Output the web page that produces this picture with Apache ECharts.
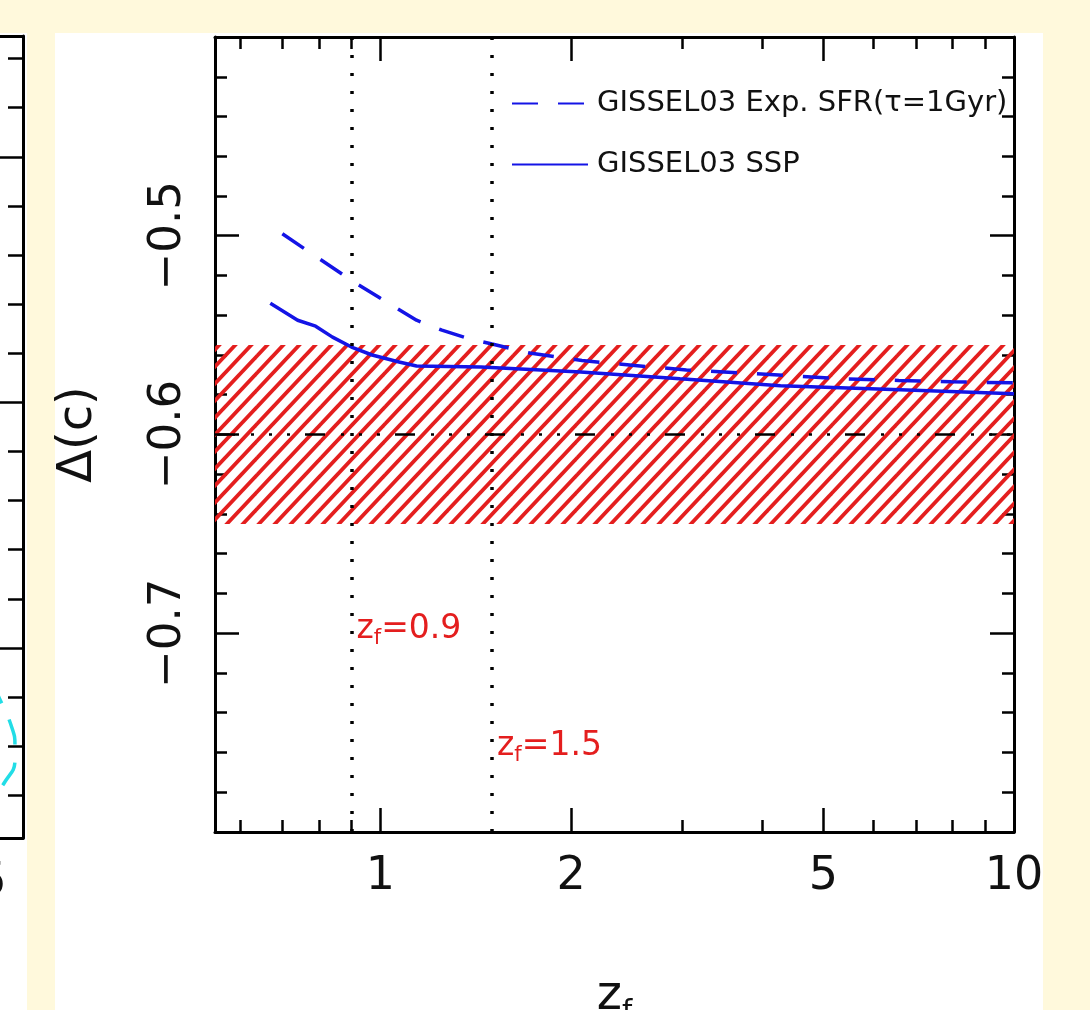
<!DOCTYPE html>
<html>
<head>
<meta charset="utf-8">
<script src="https://cdn.jsdelivr.net/npm/echarts@6/dist/echarts.min.js"></script>
<style>
html,body{margin:0;padding:0;background:#fff9dc;}
#chart{width:1090px;height:1010px;}
</style>
</head>
<body>
<div id="chart"></div>
<script>
// ---------- data ----------
const seriesNames = ['GISSEL03 Exp. SFR(\u03c4=1Gyr)', 'GISSEL03 SSP'];
const zExp  = [0.70, 0.80, 0.90, 1.00, 1.14, 1.25, 1.37, 1.50, 1.72, 2.08, 2.52, 3.04, 3.69, 4.47, 5.41, 6.58, 7.96, 10];
const dcExp = [-0.499, -0.5115, -0.5225, -0.5315, -0.5425, -0.5475, -0.5515, -0.5545, -0.559, -0.5628, -0.5653, -0.5675, -0.569, -0.5705, -0.572, -0.5728, -0.5735, -0.574];
const zSSP  = [0.67, 0.74, 0.79, 0.84, 0.90, 0.97, 1.07, 1.14, 1.44, 2.07, 2.97, 4.28, 6.61, 10];
const dcSSP = [-0.534, -0.5425, -0.5455, -0.551, -0.556, -0.56, -0.5635, -0.5655, -0.566, -0.5685, -0.572, -0.5755, -0.5775, -0.5795];
const refLevel = -0.6;
const bandLow = -0.645, bandHigh = -0.555;
const zfLines = [0.9, 1.5];
const zfLabels = ['0.9', '1.5'];
const zfLabelY = [-0.698, -0.757];
const xMajorTicks = [1, 2, 5, 10];
const xMinorTicks = [0.6, 0.7, 0.8, 0.9, 3, 4, 6, 7, 8, 9];
const xRange = [0.548, 10];
const yRange = [-0.8, -0.4];
const yLabelValues = [-0.7, -0.6, -0.5];
const yLabelTexts = ['\u22120.7', '\u22120.6', '\u22120.5'];
// neighbouring (cut-off) panel
const leftMajorTicks = [0, 0.5, 1.0];
const leftMinorTicks = [-0.3, -0.2, -0.1, 0.1, 0.2, 0.3, 0.4, 0.6, 0.7, 0.8, 0.9, 1.1, 1.2];
const leftXLabelValues = [9.27];
const leftXLabelTexts = ['5'];
const cyanX = [9.22, 9.46, 9.74, 9.81, 9.81, 9.57, 9.22];
const cyanY = [-0.065, -0.106, -0.163, -0.198, -0.228, -0.273, -0.31];

// ---------- styles ----------
const FONT = "'DejaVu Sans', Verdana, sans-serif";
const BLUE = '#1414e6';
const RED = '#e41e1e';
const lg = Math.log10;

// hatch pattern (large tile, few seams)
const TW = 64, TH = 68;
const tile = document.createElement('canvas');
tile.width = TW; tile.height = TH;
(function () {
  const c = tile.getContext('2d');
  c.strokeStyle = RED; c.lineWidth = 3.8; c.lineCap = 'butt';
  for (let o = -TW; o <= TW; o += 16) {
    c.beginPath(); c.moveTo(o - 16, TH + 17); c.lineTo(o + TW + 16, -17); c.stroke();
  }
})();

const chart = echarts.init(document.getElementById('chart'), null, { renderer: 'canvas' });

const blackLine = { color: '#000', width: 3 };
const tickLine = { color: '#000', width: 2.5 };

const logMajor = xMajorTicks.map(lg);
const logMinor = xMinorTicks.map(lg);
const xValMin = lg(xRange[0]), xValMax = lg(xRange[1]);

function tickAxis(position, values, len, withLabel, lineOn) {
  return {
    type: 'value', gridIndex: 0, position: position, min: xValMin, max: xValMax,
    axisLine: { show: !!lineOn, onZero: false, lineStyle: blackLine },
    axisTick: { show: true, inside: true, length: len, customValues: values, lineStyle: tickLine },
    axisLabel: withLabel ? {
      show: true, customValues: values, margin: 22, fontSize: 46, color: '#111', fontFamily: FONT,
      formatter: v => String(Math.round(Math.pow(10, v)))
    } : { show: false },
    splitLine: { show: false }
  };
}

const option = {
  backgroundColor: '#fff9dc',
  animation: false,
  graphic: [
    { type: 'rect', z: -10, shape: { x: 55, y: 33, width: 988, height: 980 }, style: { fill: '#ffffff' } },
    { type: 'rect', z: -10, shape: { x: 0, y: 33, width: 27, height: 980 }, style: { fill: '#ffffff' } }
  ],
  legend: {
    show: true, orient: 'vertical', left: 506, top: 84, itemWidth: 76, itemHeight: 14, itemGap: 32,
    selectedMode: false, data: seriesNames,
    itemStyle: { opacity: 0 },
    textStyle: { fontSize: 29, color: '#111', fontFamily: FONT, padding: [0, 0, 0, 4] }
  },
  grid: [
    { left: 215, top: 37, right: 76, bottom: 178, outerBoundsMode: 'none', containLabel: false },
    { left: -400, right: 1067, top: 36, bottom: 172, outerBoundsMode: 'none', containLabel: false }
  ],
  xAxis: [
    {
      type: 'log', gridIndex: 0, position: 'bottom', min: xRange[0], max: xRange[1],
      axisLine: { show: true, onZero: false, lineStyle: blackLine },
      axisTick: { show: false }, axisLabel: { show: false }, splitLine: { show: false },
      name: '{z|z}{f|f}', nameLocation: 'middle', nameGap: 135,
      nameTextStyle: {
        rich: {
          z: { fontSize: 48, lineHeight: 60, verticalAlign: 'middle', fontFamily: FONT, color: '#111' },
          f: { fontSize: 29, lineHeight: 60, verticalAlign: 'bottom', fontFamily: FONT, color: '#111' }
        }
      }
    },
    tickAxis('bottom', logMajor, 24, true, false),
    tickAxis('bottom', logMinor, 12, false, false),
    tickAxis('top', logMajor, 24, false, true),
    tickAxis('top', logMinor, 12, false, false),
    {
      type: 'value', gridIndex: 1, position: 'bottom', min: 0, max: 10,
      axisLine: { show: true, onZero: false, lineStyle: blackLine }, axisTick: { show: false },
      axisLabel: { show: true, customValues: leftXLabelValues, margin: 22, fontSize: 46, color: '#111', fontFamily: FONT,
        formatter: v => leftXLabelTexts[0] },
      splitLine: { show: false }
    },
    {
      type: 'value', gridIndex: 1, position: 'top', min: 0, max: 10,
      axisLine: { show: true, onZero: false, lineStyle: blackLine }, axisTick: { show: false }, axisLabel: { show: false },
      splitLine: { show: false }
    }
  ],
  yAxis: [
    {
      type: 'value', gridIndex: 0, position: 'left', min: yRange[0], max: yRange[1], interval: 0.1,
      axisLine: { show: true, onZero: false, lineStyle: blackLine },
      axisTick: { show: true, inside: true, length: 24, lineStyle: tickLine },
      minorTick: { show: true, splitNumber: 5, length: 12, lineStyle: tickLine },
      axisLabel: {
        show: true, customValues: yLabelValues, rotate: 90, margin: 24, fontSize: 45, color: '#111', fontFamily: FONT,
        formatter: v => { const i = yLabelValues.findIndex(t => Math.abs(t - v) < 1e-6); return i >= 0 ? yLabelTexts[i] : ''; }
      },
      splitLine: { show: false }, minorSplitLine: { show: false },
      name: '\u0394(c)', nameLocation: 'middle', nameGap: 112, nameRotate: 90,
      nameTextStyle: { fontSize: 48, color: '#111', fontFamily: FONT }
    },
    {
      type: 'value', gridIndex: 0, position: 'right', min: yRange[0], max: yRange[1], interval: 0.1,
      axisLine: { show: true, onZero: false, lineStyle: blackLine },
      axisTick: { show: true, inside: true, length: 24, lineStyle: tickLine },
      minorTick: { show: true, splitNumber: 5, length: 12, lineStyle: tickLine },
      axisLabel: { show: false }, splitLine: { show: false }
    },
    {
      type: 'value', gridIndex: 1, position: 'right', min: -0.387, max: 1.246,
      axisLine: { show: true, onZero: false, lineStyle: blackLine },
      axisTick: { show: true, inside: true, length: 30, customValues: leftMajorTicks, lineStyle: tickLine },
      axisLabel: { show: false }, splitLine: { show: false }
    },
    {
      type: 'value', gridIndex: 1, position: 'right', min: -0.387, max: 1.246,
      axisLine: { show: false, onZero: false },
      axisTick: { show: true, inside: true, length: 15, customValues: leftMinorTicks, lineStyle: tickLine },
      axisLabel: { show: false }, splitLine: { show: false }
    }
  ],
  series: [
    {
      name: 'ref', type: 'line', xAxisIndex: 0, yAxisIndex: 0, z: 2, silent: true,
      symbol: 'none',
      data: [[xRange[0], refLevel], [xRange[1], refLevel]],
      lineStyle: { color: '#000', width: 2.5, type: [20, 16, 3, 15, 3, 15, 3, 15] },
      markArea: {
        silent: true,
        itemStyle: { color: { image: tile, repeat: 'repeat' }, opacity: 1, borderWidth: 0 },
        data: [[{ yAxis: bandHigh }, { yAxis: bandLow }]]
      },
      markLine: {
        silent: true, symbol: 'none', label: { show: false },
        lineStyle: { color: '#000', width: 3.5, type: [3, 15] },
        data: zfLines.map(v => ({ xAxis: v }))
      }
    },
    {
      name: seriesNames[0], type: 'line', xAxisIndex: 0, yAxisIndex: 0, z: 4, symbol: 'none',
      data: zExp.map((z, i) => [z, dcExp[i]]),
      lineStyle: { color: BLUE, width: 3.5, type: [26, 20] }, itemStyle: { color: BLUE }
    },
    {
      name: seriesNames[1], type: 'line', xAxisIndex: 0, yAxisIndex: 0, z: 4, symbol: 'none',
      data: zSSP.map((z, i) => [z, dcSSP[i]]),
      lineStyle: { color: BLUE, width: 3.5 }, itemStyle: { color: BLUE }
    },
    {
      name: 'zf-labels', type: 'scatter', xAxisIndex: 0, yAxisIndex: 0, z: 5, silent: true,
      symbolSize: 0,
      data: zfLines.map((z, i) => [z, zfLabelY[i]]),
      label: {
        show: true, position: 'right', distance: 5, opacity: 1,
        formatter: p => '{z|z}{f|f}{t|=' + zfLabels[p.dataIndex] + '}',
        rich: {
          z: { fontSize: 33, lineHeight: 40, verticalAlign: 'middle', color: RED, fontFamily: FONT },
          f: { fontSize: 21, lineHeight: 40, verticalAlign: 'bottom', color: RED, fontFamily: FONT },
          t: { fontSize: 33, lineHeight: 40, verticalAlign: 'middle', color: RED, fontFamily: FONT }
        }
      }
    },
    {
      name: 'neighbour', type: 'line', xAxisIndex: 5, yAxisIndex: 2, z: 3, symbol: 'none', smooth: true, silent: true,
      data: cyanX.map((x, i) => [x, cyanY[i]]),
      lineStyle: { color: '#22dde6', width: 3.5, type: [26, 18] }
    }
  ]
};
chart.setOption(option);
</script>
</body>
</html>
